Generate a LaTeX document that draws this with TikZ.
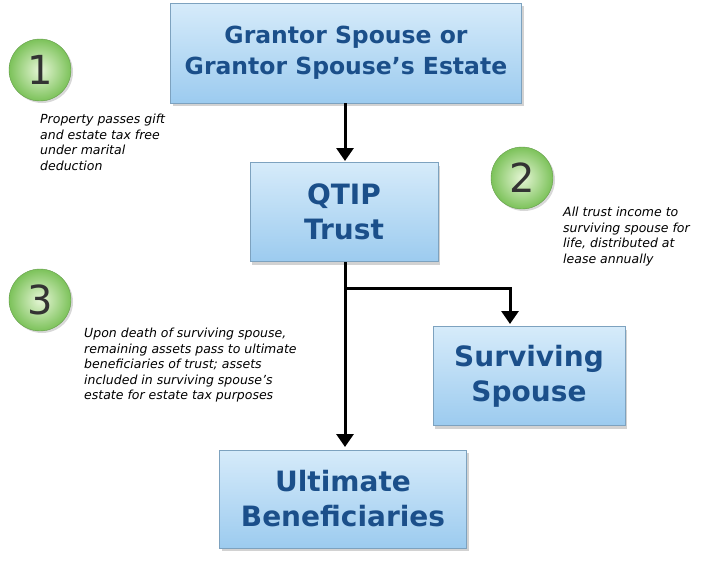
\documentclass[tikz,border=0pt]{standalone}
\usepackage{fontspec}
\setmainfont{DejaVu Sans}
\usetikzlibrary{shadows,arrows.meta}
\definecolor{tx}{HTML}{1B4F8A}
\definecolor{bxA}{HTML}{D6EBFA}
\definecolor{bxB}{HTML}{9CCBEF}
\definecolor{gA}{HTML}{E6F6D6}
\definecolor{gB}{HTML}{7CC25A}
\begin{document}
\begin{tikzpicture}[x=1pt,y=-1pt,
 box/.style={draw=bxB!80!black,line width=0.4pt,top color=bxA,bottom color=bxB,drop shadow={shadow xshift=2pt,shadow yshift=-3pt,opacity=0.35},text=tx,font=\bfseries,align=center,inner sep=0pt},
 num/.style={circle,minimum size=62pt,inner sep=0pt,shading=radial,inner color=gA,outer color=gB,draw=gB!80!black,drop shadow={shadow xshift=2pt,shadow yshift=-2pt,opacity=0.3},font=\fontsize{40}{40}\selectfont,text=black!80},
 note/.style={font=\itshape\fontsize{12.5}{15.5}\selectfont,align=left,anchor=north west,inner sep=0pt},
 arr/.style={line width=3pt,-{Triangle[length=13pt,width=17pt]}}]
\useasboundingbox[fill=white] (0,0) rectangle (720,568);
\node[box,minimum width=351pt,minimum height=100pt,font=\bfseries\fontsize{23.5}{31}\selectfont] (g) at (346,53) {Grantor Spouse or\\Grantor Spouse’s Estate};
\node[box,minimum width=188pt,minimum height=99pt,font=\bfseries\fontsize{28}{35}\selectfont] (q) at (344,212) {QTIP\\Trust};
\node[box,minimum width=192pt,minimum height=99pt,font=\bfseries\fontsize{28}{35}\selectfont] (s) at (529,376) {Surviving\\Spouse};
\node[box,minimum width=247pt,minimum height=98pt,font=\bfseries\fontsize{28}{35}\selectfont] (u) at (343,499) {Ultimate\\Beneficiaries};
\draw[arr] (g.south -| 345,0) -- (345,161);
\coordinate (j) at (345,288);
\draw[arr] (345,262) -- (345,447);
\draw[arr] (j) -- (510,288) -- (510,324);
\node[num] (n1) at (40,70) {1};
\node[num] (n2) at (522,178) {2};
\node[num] (n3) at (40,300) {3};
\node[note] (t1) at (40,114) {Property passes gift\\and estate tax free\\under marital\\deduction};
\node[note] (t2) at (563,207) {All trust income to\\surviving spouse for\\life, distributed at\\lease annually};
\node[note] (t3) at (84,328) {Upon death of surviving spouse,\\remaining assets pass to ultimate\\beneficiaries of trust; assets\\included in surviving spouse’s\\estate for estate tax purposes};
\end{tikzpicture}
\end{document}
